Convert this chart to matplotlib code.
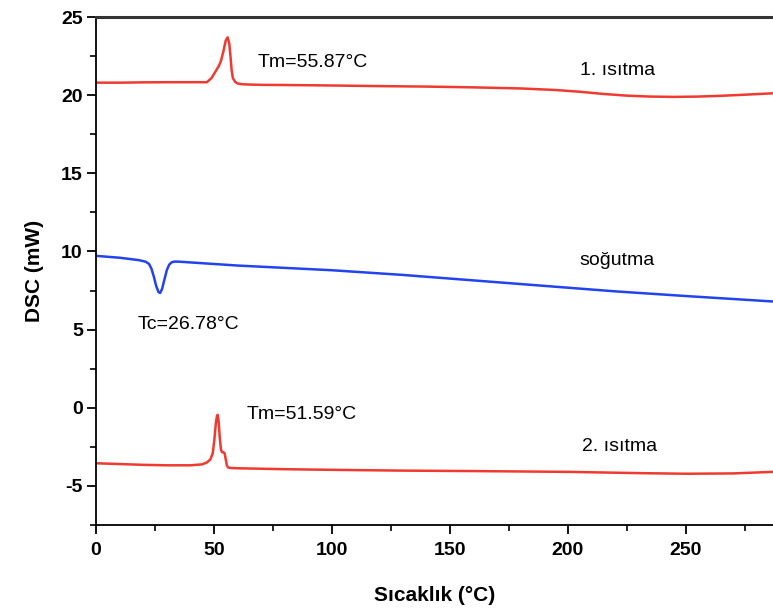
import matplotlib.pyplot as plt
from matplotlib.ticker import MultipleLocator

plt.rcParams['font.family'] = ['Liberation Sans', 'DejaVu Sans']
plt.rcParams['axes.unicode_minus'] = False

# 1. ısıtma
x1 = [0, 10, 20, 30, 40, 47, 49, 50, 51, 52, 53, 54, 55, 55.8, 56.5, 57, 57.5, 58, 59, 60,
      62, 65, 70, 80, 100, 120, 140, 160, 180, 195, 205, 215, 225, 235, 245, 255, 265, 275, 287]
y1 = [20.8, 20.8, 20.82, 20.83, 20.83, 20.83, 21.1, 21.35, 21.6, 21.85, 22.2, 22.8, 23.5, 23.7,
      23.3, 22.5, 21.6, 21.1, 20.85, 20.75, 20.7, 20.68, 20.66, 20.65, 20.62, 20.58, 20.55, 20.5,
      20.43, 20.33, 20.22, 20.08, 19.97, 19.91, 19.89, 19.91, 19.96, 20.03, 20.12]

# soğutma
x2 = [0, 10, 18, 21, 22.5, 23.5, 24.5, 25.5, 26.5, 27.2, 28, 29, 30, 31, 32, 33, 35, 40, 60,
      80, 100, 130, 160, 190, 220, 250, 287]
y2 = [9.72, 9.6, 9.45, 9.35, 9.2, 8.9, 8.4, 7.8, 7.4, 7.35, 7.6, 8.2, 8.8, 9.15, 9.3, 9.35,
      9.35, 9.3, 9.1, 8.95, 8.8, 8.5, 8.15, 7.8, 7.45, 7.15, 6.8]

# 2. ısıtma
x3 = [0, 10, 20, 30, 40, 45, 47, 48.5, 49.5, 50.2, 50.8, 51.3, 51.6, 52, 52.5, 53, 53.5, 54,
      54.5, 55, 55.5, 56, 57, 60, 70, 80, 100, 130, 160, 200, 230, 250, 270, 287]
y3 = [-3.55, -3.6, -3.65, -3.68, -3.68, -3.62, -3.5, -3.3, -2.9, -2.0, -1.0, -0.5, -0.45, -0.9,
      -2.0, -2.7, -2.85, -2.85, -2.9, -3.3, -3.7, -3.82, -3.85, -3.87, -3.9, -3.93, -3.97, -4.02,
      -4.05, -4.1, -4.18, -4.22, -4.2, -4.1]

kirmizi = '#f03a30'
mavi = '#2244ee'

fig = plt.figure(figsize=(7.73, 6.08), dpi=100)
ax = fig.add_axes([0.1242, 0.1365, 0.8758, 0.8355])

ax.plot(x1, y1, color=kirmizi, lw=1.8)
ax.plot(x2, y2, color=mavi, lw=1.8)
ax.plot(x3, y3, color=kirmizi, lw=1.8)

# etiketler
ax.text(68.5, 22.1, 'Tm=55.87°C', fontsize=14, va='center')
ax.text(205, 21.6, '1. ısıtma', fontsize=14, va='center')
ax.text(205, 9.4, 'soğutma', fontsize=14, va='center')
ax.text(17.5, 5.3, 'Tc=26.78°C', fontsize=14, va='center')
ax.text(64, -0.4, 'Tm=51.59°C', fontsize=14, va='center')
ax.text(206, -2.5, '2. ısıtma', fontsize=14, va='center')

ax.set_xlim(0, 287)
ax.set_ylim(-7.5, 25)
ax.xaxis.set_major_locator(MultipleLocator(50))
ax.xaxis.set_minor_locator(MultipleLocator(25))
ax.yaxis.set_major_locator(MultipleLocator(5))
ax.yaxis.set_minor_locator(MultipleLocator(2.5))

ax.tick_params(which='major', direction='out', length=6.5, width=1.3, labelsize=14, pad=3)
ax.tick_params(axis='x', which='major', pad=6)
ax.tick_params(which='minor', direction='out', length=4, width=1.2)
for lbl in ax.get_xticklabels() + ax.get_yticklabels():
    lbl.set_fontweight('bold')

ax.spines['right'].set_visible(False)
ax.spines['top'].set_linewidth(2.2)
ax.spines['top'].set_color('#333333')
ax.spines['left'].set_linewidth(1.3)
ax.spines['bottom'].set_linewidth(1.3)

ax.set_xlabel('Sıcaklık (°C)', fontsize=15, fontweight='bold', labelpad=19)
ax.set_ylabel('DSC (mW)', fontsize=15, fontweight='bold', labelpad=12)

fig.savefig('out.png', dpi=100)
